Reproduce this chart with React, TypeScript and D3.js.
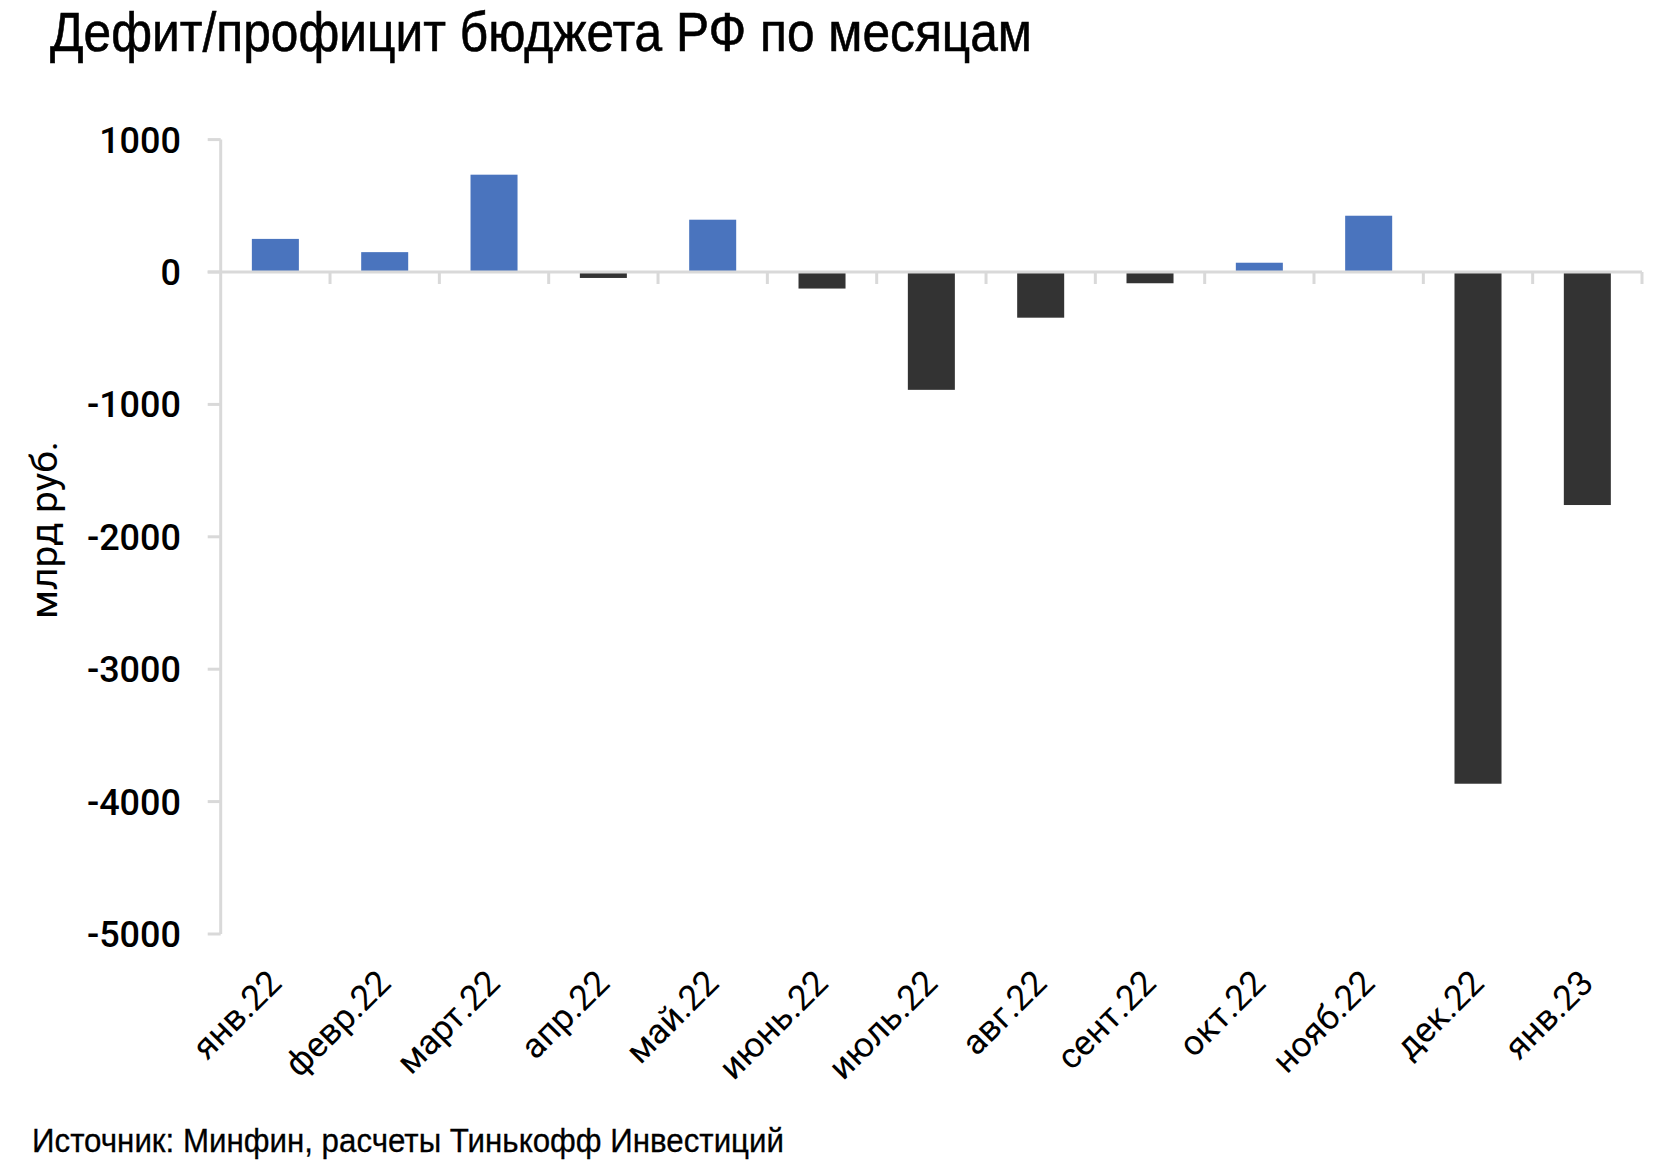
import React from "react";
import * as d3 from "d3";

const months = ["янв.22", "февр.22", "март.22", "апр.22", "май.22", "июнь.22", "июль.22", "авг.22", "сент.22", "окт.22", "нояб.22", "дек.22", "янв.23"];
const balance = [250, 150, 735, -45, 395, -125, -890, -345, -85, 70, 425, -3865, -1760];
const yTicks = [1000, 0, -1000, -2000, -3000, -4000, -5000];

const titleText = "Дефит/профицит бюджета РФ по месяцам";
const yLabel = "млрд руб.";
const sourceText = "Источник: Минфин, расчеты Тинькофф Инвестиций";

const W = 1672;
const H = 1174;
const left = 220.7;
const right = 1642;
const top = 139.6;
const bottom = 934;
const axisColor = "#d9d9d9";
const posColor = "#4a74be";
const negColor = "#333333";

export default function App() {
  const x = d3.scaleBand<string>().domain(months).range([left, right]).paddingInner(0.57).paddingOuter(0.285);
  const y = d3.scaleLinear().domain([-5000, 1000]).range([bottom, top]);
  const step = (right - left) / months.length;
  const y0 = y(0);

  return (
    <svg width={W} height={H} style={{ position: "absolute", left: 0, top: 0, background: "#fff" }}>
      <rect x={0} y={0} width={W} height={H} fill="#fff" />
      <text x={50} y={51} fontFamily="'Liberation Sans Narrow', 'Liberation Sans', Arial, sans-serif" fontSize={55} textLength={982} lengthAdjust="spacingAndGlyphs" stroke="#000" strokeWidth={0.6} fill="#000">{titleText}</text>

      {months.map((m, i) => {
        const v = balance[i];
        const y1 = y(Math.max(v, 0));
        const y2 = y(Math.min(v, 0));
        return <rect key={m} x={x(m)} y={y1} width={x.bandwidth()} height={y2 - y1} fill={v >= 0 ? posColor : negColor} />;
      })}

      {/* y axis */}
      <line x1={left} x2={left} y1={top} y2={bottom} stroke={axisColor} strokeWidth={3} />
      {yTicks.map((t) => (
        <g key={t}>
          <line x1={left - 13} x2={left} y1={y(t)} y2={y(t)} stroke={axisColor} strokeWidth={3} />
          <text x={181} y={y(t) + 13} textAnchor="end" fontFamily="Roboto, 'Noto Sans', sans-serif" fontWeight={500} fontSize={36} fill="#000">{t}</text>
        </g>
      ))}

      {/* x axis */}
      <line x1={left - 13} x2={right} y1={y0} y2={y0} stroke={axisColor} strokeWidth={3} />
      {months.map((m, i) => (
        <line key={"t" + m} x1={left + (i + 1) * step} x2={left + (i + 1) * step} y1={y0} y2={y0 + 12} stroke={axisColor} strokeWidth={3} />
      ))}

      {months.map((m) => {
        const cx = (x(m) as number) + x.bandwidth() / 2 + 8;
        const cy = 985;
        return (
          <text key={"l" + m} x={cx} y={cy} textAnchor="end" transform={`rotate(-45 ${cx} ${cy})`} fontFamily="Roboto, 'Noto Sans', sans-serif" fontSize={35} fill="#000">{m}</text>
        );
      })}

      <text transform={`translate(57 530) rotate(-90)`} textAnchor="middle" fontFamily="Roboto, 'Noto Sans', sans-serif" fontWeight={400} fontSize={36} textLength={178} lengthAdjust="spacingAndGlyphs" fill="#000">{yLabel}</text>

      <text x={32} y={1152} fontFamily="'Liberation Sans Narrow', 'Liberation Sans', Arial, sans-serif" fontSize={33} textLength={752} lengthAdjust="spacingAndGlyphs" stroke="#000" strokeWidth={0.3} fill="#000">{sourceText}</text>
    </svg>
  );
}
